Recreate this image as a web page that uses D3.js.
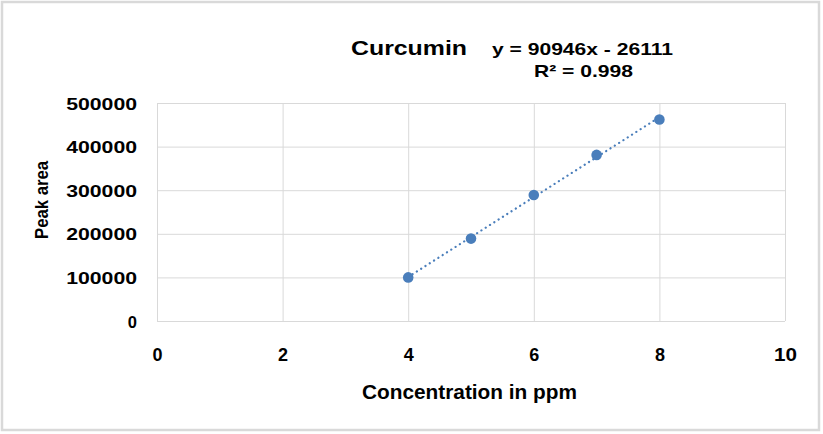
<!DOCTYPE html>
<html>
<head>
<meta charset="utf-8">
<script src="https://cdn.jsdelivr.net/npm/d3@7"></script>
<style>
  body { margin: 0; background: #fff; }
  text { font-family: "Liberation Sans", Arial, sans-serif; font-weight: bold; fill: #000; }
</style>
</head>
<body>
<div id="vis"></div>
<script>
const FRAME_WIDTH = 823;
const FRAME_HEIGHT = 434;
const MARGINS = {left: 157, right: 38, top: 103, bottom: 113};

// data
const concentration = [4, 5, 6, 7, 8];
const peakArea = [100000, 189000, 289000, 381000, 462000];
const xTicks = [0, 2, 4, 6, 8, 10];
const yTicks = [0, 100000, 200000, 300000, 400000, 500000];
const chartTitle = "Curcumin";
const equationText = "y = 90946x - 26111";
const r2Text = "R² = 0.998";

const FRAME = d3.select("#vis")
  .append("svg")
  .attr("width", FRAME_WIDTH)
  .attr("height", FRAME_HEIGHT);

// outer chart border
FRAME.append("rect")
  .attr("x", 2).attr("y", 2)
  .attr("width", 817).attr("height", 428)
  .attr("fill", "none")
  .attr("stroke", "#d9d9d9")
  .attr("stroke-width", 2.5);

const X_SCALE = d3.scaleLinear()
  .domain([0, 10])
  .range([MARGINS.left, FRAME_WIDTH - MARGINS.right]);

const Y_SCALE = d3.scaleLinear()
  .domain([0, 500000])
  .range([FRAME_HEIGHT - MARGINS.bottom, MARGINS.top]);

// vertical grid lines
FRAME.append("g")
  .attr("transform", "translate(0," + MARGINS.top + ")")
  .call(d3.axisTop(X_SCALE).tickValues(xTicks).tickSize(-(Y_SCALE(0) - Y_SCALE(500000))).tickFormat(""))
  .call(g => g.select(".domain").remove())
  .call(g => g.selectAll("line").attr("stroke", "#d9d9d9"));

// horizontal grid lines
FRAME.append("g")
  .attr("transform", "translate(" + MARGINS.left + ",0)")
  .call(d3.axisLeft(Y_SCALE).tickValues(yTicks).tickSize(-(X_SCALE(10) - X_SCALE(0))).tickFormat(""))
  .call(g => g.select(".domain").remove())
  .call(g => g.selectAll("line").attr("stroke", "#d9d9d9"));

// x tick labels
FRAME.append("g")
  .attr("transform", "translate(0," + Y_SCALE(0) + ")")
  .call(d3.axisBottom(X_SCALE).tickValues(xTicks).tickSize(0).tickPadding(40).tickFormat(d3.format("d")))
  .call(g => g.select(".domain").remove())
  .call(g => g.selectAll("text")
    .style("font-size", "18px")
    .attr("dy", "0")
    .each(function(d) {
      if (String(d).length > 1) d3.select(this).attr("textLength", 23).attr("lengthAdjust", "spacingAndGlyphs");
    }));

// y tick labels
FRAME.append("g")
  .attr("transform", "translate(" + (MARGINS.left - 20) + ",0)")
  .call(d3.axisLeft(Y_SCALE).tickValues(yTicks).tickSize(0).tickPadding(0).tickFormat(d3.format("d")))
  .call(g => g.select(".domain").remove())
  .call(g => g.selectAll("text")
    .style("font-size", "16.5px")
    .attr("dy", "6")
    .each(function(d) {
      const n = String(d).length;
      if (n > 1) d3.select(this).attr("textLength", 12.3 * n - 3).attr("lengthAdjust", "spacingAndGlyphs");
    }));

// linear trendline (least squares)
const n = concentration.length;
const mx = d3.mean(concentration);
const my = d3.mean(peakArea);
let sxy = 0, sxx = 0;
for (let i = 0; i < n; i++) {
  sxy += (concentration[i] - mx) * (peakArea[i] - my);
  sxx += (concentration[i] - mx) * (concentration[i] - mx);
}
const slope = sxy / sxx;
const intercept = my - slope * mx;
const xMin = d3.min(concentration), xMax = d3.max(concentration);

FRAME.append("line")
  .attr("x1", X_SCALE(xMin)).attr("y1", Y_SCALE(slope * xMin + intercept))
  .attr("x2", X_SCALE(xMax)).attr("y2", Y_SCALE(slope * xMax + intercept))
  .attr("stroke", "#4a7ebb")
  .attr("stroke-width", 2.2)
  .attr("stroke-linecap", "round")
  .attr("stroke-dasharray", "0.1 5");

// points
FRAME.selectAll(".point")
  .data(concentration)
  .enter()
  .append("circle")
    .attr("class", "point")
    .attr("cx", (d) => X_SCALE(d))
    .attr("cy", (d, i) => Y_SCALE(peakArea[i]))
    .attr("r", 5.3)
    .attr("fill", "#4a7ebb");

// titles
FRAME.append("text")
  .attr("x", 351).attr("y", 55)
  .attr("textLength", 116).attr("lengthAdjust", "spacingAndGlyphs")
  .style("font-size", "21px")
  .text(chartTitle);

FRAME.append("text")
  .attr("x", 492).attr("y", 55)
  .attr("textLength", 181).attr("lengthAdjust", "spacingAndGlyphs")
  .style("font-size", "17px")
  .text(equationText);

FRAME.append("text")
  .attr("x", 534).attr("y", 77)
  .attr("textLength", 99).attr("lengthAdjust", "spacingAndGlyphs")
  .style("font-size", "17px")
  .text(r2Text);

FRAME.append("text")
  .attr("x", 362).attr("y", 399)
  .attr("textLength", 215).attr("lengthAdjust", "spacingAndGlyphs")
  .style("font-size", "20px")
  .text("Concentration in ppm");

FRAME.append("text")
  .attr("transform", "translate(48,200) rotate(-90)")
  .attr("text-anchor", "middle")
  .attr("textLength", 78).attr("lengthAdjust", "spacingAndGlyphs")
  .style("font-size", "19px")
  .text("Peak area");
</script>
</body>
</html>
